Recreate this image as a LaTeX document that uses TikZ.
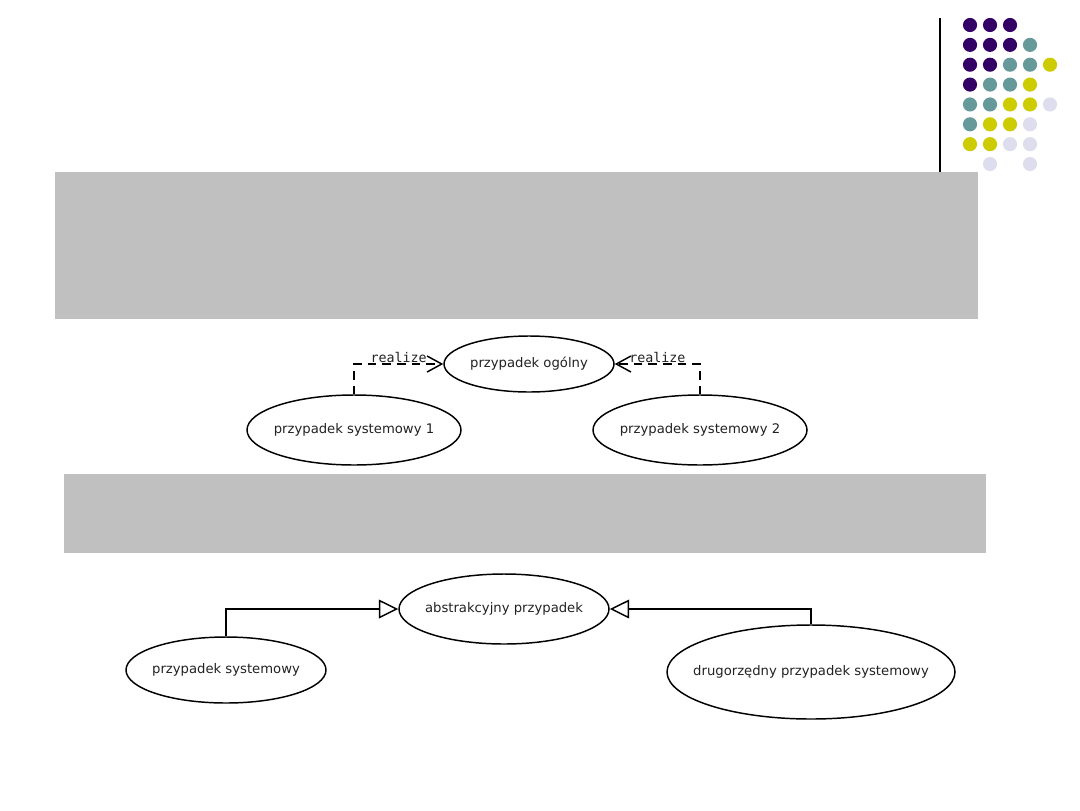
\documentclass[tikz,border=0pt]{standalone}
\usepackage{fontspec}
\setmainfont{DejaVu Sans}
\newfontfamily\monofont{DejaVu Sans Mono}
\usetikzlibrary{arrows.meta,shapes.geometric}
\definecolor{plum}{RGB}{51,0,102}
\definecolor{sea}{RGB}{102,153,153}
\definecolor{lime}{RGB}{204,204,0}
\definecolor{mist}{RGB}{221,221,238}
\definecolor{slab}{RGB}{192,192,192}
\definecolor{ink}{RGB}{34,34,34}
\tikzset{
  usecase/.style={ellipse,draw=black,line width=1.1pt,inner ysep=0pt,inner xsep=-10pt,
    font=\fontsize{9.9}{12}\selectfont,text=ink},
  realize/.style={draw=black,line width=1.1pt,dash pattern=on 6.5pt off 4.5pt,
    -{Straight Barb[length=11pt,width=12pt,line width=1.1pt]}},
  extend/.style={draw=black,line width=1.1pt,
    -{Triangle[open,fill=white,length=14.5pt,width=14pt,line width=1.1pt]}},
  tag/.style={font=\monofont\fontsize{10}{12}\selectfont,text=ink,above,inner sep=0.5pt},
  dot/.style={fill=#1},
}

\begin{document}
\begin{tikzpicture}[x=0.75pt,y=-0.75pt]
  \useasboundingbox[fill=white] (0,0) rectangle (1080,810);

  % decoration in the corner
  \draw[line width=0.8pt] (940,18) -- (940,172);
  \foreach \r/\cs in {0/{plum,plum,plum,,},1/{plum,plum,plum,sea,},
      2/{plum,plum,sea,sea,lime},3/{plum,sea,sea,lime,},
      4/{sea,sea,lime,lime,mist},5/{sea,lime,lime,mist,},
      6/{lime,lime,mist,mist,},7/{,mist,,mist,}}
  {
    \foreach \c [count=\k from 0] in \cs {
      \ifx\c\empty\else
        \fill[dot=\c] (970+20*\k,25+19.86*\r) circle (5.3pt);
      \fi
    }
  }

  % grey title bars
  \fill[slab] (55,172) rectangle (978,319);
  \fill[slab] (64,474) rectangle (986,553);

  % realize
  \node[usecase,minimum width=127.5pt,minimum height=42pt] (og) at (529,364) {przypadek ogólny};
  \node[usecase,minimum width=160.5pt,minimum height=52.5pt] (s1) at (354,430) {przypadek systemowy 1};
  \node[usecase,minimum width=160.5pt,minimum height=52.5pt] (s2) at (700,430) {przypadek systemowy 2};
  \draw[realize] (s1.north) |- node[tag,pos=0.75] {realize} (og.west);
  \draw[realize] (s2.north) |- node[tag,pos=0.75] {realize} (og.east);

  % generalization
  \node[usecase,minimum width=157.5pt,minimum height=52.5pt] (abs) at (504,609) {abstrakcyjny przypadek};
  \node[usecase,minimum width=150pt,minimum height=49.5pt] (sys) at (226,670) {przypadek systemowy};
  \node[usecase,inner xsep=-18pt,minimum width=216pt,minimum height=70.5pt] (drg) at (811,672) {drugorzędny przypadek systemowy};
  \draw[extend] (sys.north) |- (abs.west);
  \draw[extend] (drg.north) |- (abs.east);
\end{tikzpicture}
\end{document}
